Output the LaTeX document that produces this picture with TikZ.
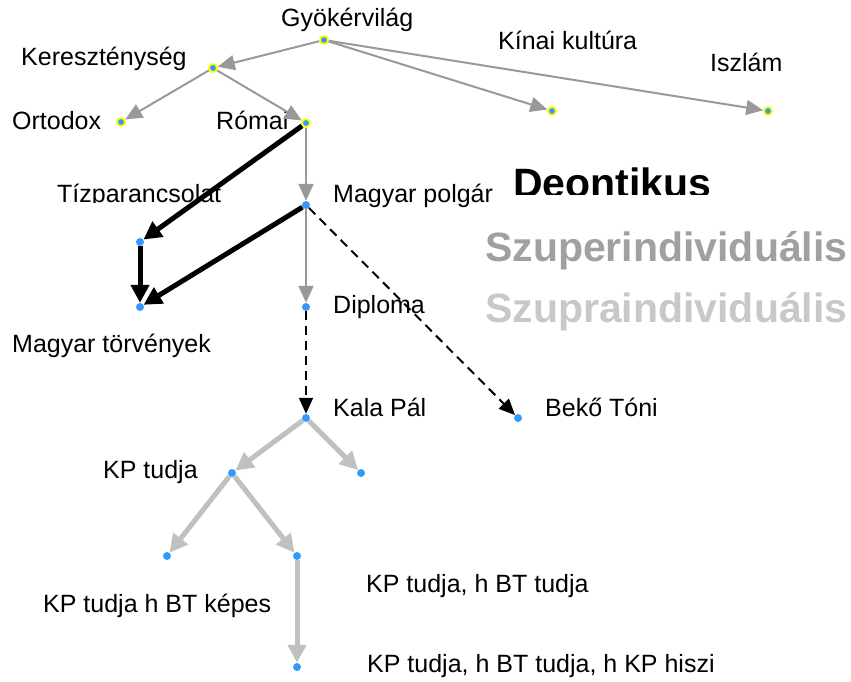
\documentclass[tikz,border=0pt]{standalone}
\usepackage{fontspec}
\setmainfont{Liberation Sans}
\usetikzlibrary{arrows.meta}
\definecolor{dotblue}{RGB}{51,153,255}
\definecolor{ringyellow}{RGB}{255,255,0}
\definecolor{thingray}{RGB}{153,153,153}
\definecolor{lightgray2}{RGB}{192,192,192}
\definecolor{szuper}{RGB}{160,160,160}
\definecolor{szupra}{RGB}{200,200,200}
\tikzset{
  dot/.style={circle,fill=dotblue,inner sep=0pt,minimum size=8pt},
  ringdot/.style={circle,fill=dotblue,draw=ringyellow,line width=1.8pt,inner sep=0pt,minimum size=8pt},
  lbl/.style={anchor=base west,inner sep=0pt,font=\fontsize{25}{30}\selectfont},
  big/.style={anchor=base west,inner sep=0pt,font=\fontsize{41}{48}\selectfont\bfseries},
  thinarr/.style={draw=thingray,line width=2pt,-{Triangle[length=17pt,width=15pt]},fill=thingray},
  thickarr/.style={draw=black,line width=5pt,-{Triangle[length=18pt,width=18pt]}},
  dasharr/.style={draw=black,line width=2pt,dash pattern=on 9pt off 6pt,-{Triangle[length=16pt,width=14pt]}},
  lightarr/.style={draw=lightgray2,line width=5pt,-{Triangle[length=18pt,width=18pt]}},
}
\begin{document}
\begin{tikzpicture}[x=1pt,y=-1pt]
\useasboundingbox (0,0) rectangle (851,682);
% labels
\node[lbl] (lg) at (281,27) {Gyökérvilág};
\node[lbl] (lker) at (21,66) {Kereszténység};
\node[lbl] (lort) at (12,129) {Ortodox};
\node[lbl] (lrom) at (216,129) {Római};
\node[lbl] (lkin) at (498,50) {Kínai kultúra};
\node[lbl] (lisz) at (710,72) {Iszlám};
\begin{scope}
\clip (0,170) rectangle (300,202);
\node[lbl] (ltiz) at (57,202) {Tízparancsolat};
\end{scope}
\node[lbl] (lmp) at (333,202) {Magyar polgár};
\node[lbl] (lmt) at (12,352) {Magyar törvények};
\node[lbl] (ldip) at (333,313) {Diploma};
\node[lbl] (lkp) at (333,416) {Kala Pál};
\node[lbl] (lbt) at (545,416) {Bekő Tóni};
\node[lbl] (lkpt) at (103,478) {KP tudja};
\node[lbl] (lkpl) at (43,612) {KP tudja h BT képes};
\node[lbl] (lkpbt) at (366,592) {KP tudja, h BT tudja};
\node[lbl] (lkph) at (367,672) {KP tudja, h BT tudja, h KP hiszi};
\begin{scope}
\clip (400,150) rectangle (851,194);
\node[big] (ldeon) at (513,197) {Deontikus};
\end{scope}
\node[big,text=szuper] (lszuper) at (485,261) {Szuperindividuális};
\node[big,text=szupra] (lszupra) at (485,322) {Szupraindividuális};
% dots
\node[ringdot] (g) at (324,40) {};
\node[ringdot] (ker) at (213,68) {};
\node[ringdot] (ort) at (121,122) {};
\node[ringdot] (rom) at (306,123) {};
\node[ringdot] (kin) at (552,111) {};
\node[ringdot] (isz) at (768,111) {};
\node[dot] (mp) at (306,205) {};
\node[dot] (tiz) at (140,242) {};
\node[dot] (mt) at (140,307) {};
\node[dot] (dip) at (306,307) {};
\node[dot] (kp) at (306,418) {};
\node[dot] (bt) at (518,418) {};
\node[dot] (kpr) at (361,473) {};
\node[dot] (kpt) at (232,473) {};
\node[dot] (kpl) at (167,556) {};
\node[dot] (kpbt) at (297,556) {};
\node[dot] (kph) at (297,667) {};
% connectors
\draw[thinarr] (g) -- (ker);
\draw[thinarr] (g) -- (kin);
\draw[thinarr] (g) -- (isz);
\draw[thinarr] (ker) -- (ort);
\draw[thinarr] (ker) -- (rom);
\draw[thinarr] (rom) -- (mp);
\draw[thinarr] (mp) -- (dip);
\draw[thickarr] (rom) -- (tiz);
\draw[thickarr] (tiz) -- (mt);
\draw[thickarr] (mp) -- (mt);
\draw[dasharr] (dip) -- (kp);
\draw[dasharr] (mp) -- (bt);
\draw[lightarr] (kp) -- (kpt);
\draw[lightarr] (kp) -- (kpr);
\draw[lightarr] (kpt) -- (kpl);
\draw[lightarr] (kpt) -- (kpbt);
\draw[lightarr] (kpbt) -- (kph);
\end{tikzpicture}
\end{document}
